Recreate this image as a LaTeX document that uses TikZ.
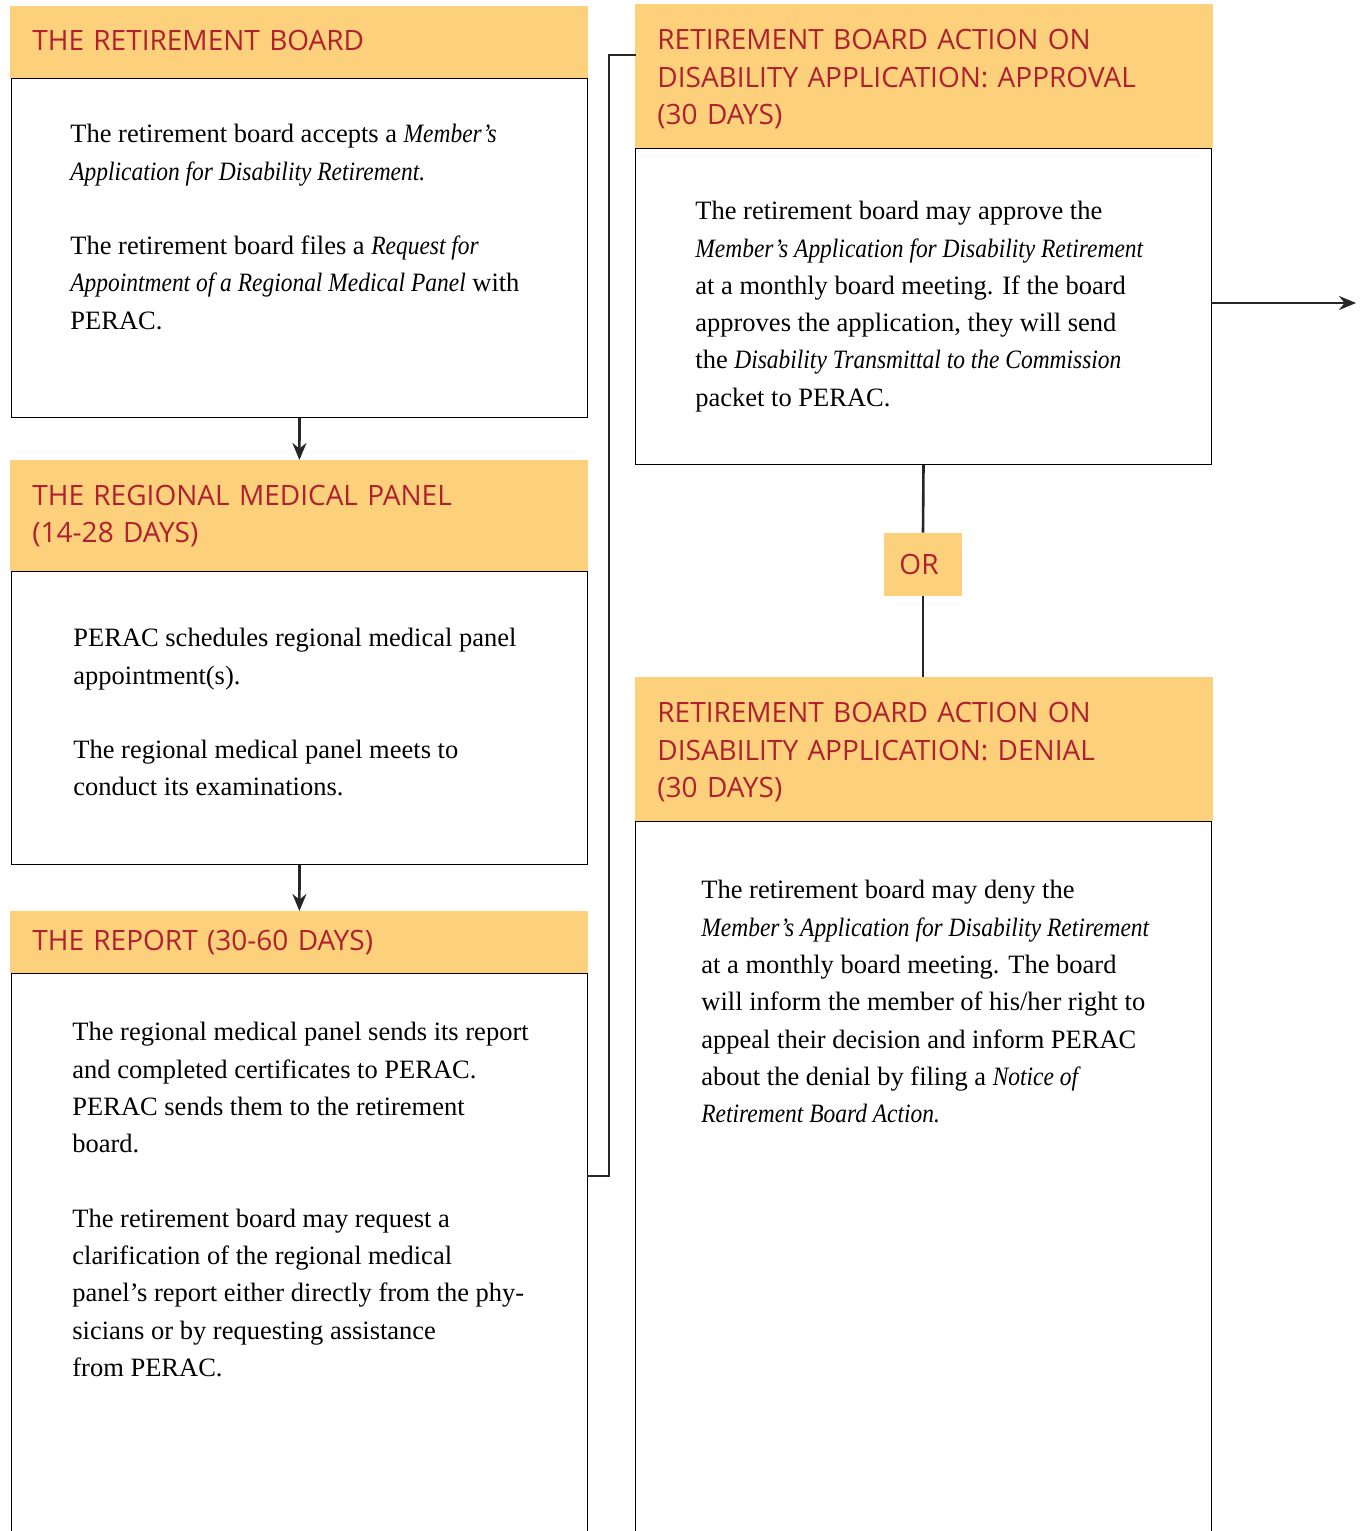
\documentclass[tikz,border=0pt]{standalone}
\usepackage{fontspec}
\setmainfont{Liberation Serif}[ItalicFeatures={FakeStretch=0.885}]
\newfontfamily\headfont{Open Sans}
\usetikzlibrary{positioning,arrows.meta}
\definecolor{headyellow}{HTML}{FDD07B}
\definecolor{headred}{HTML}{B0212F}
\newcommand{\pargap}{\\[18.6pt]}
\newcommand{\uppush}{\rule[-2pt]{0pt}{0pt}}
\newcommand{\downpush}{\rule{0pt}{13pt}}
\tikzstyle{head} = [anchor=north west, fill=headyellow, inner sep=0pt, inner xsep=11pt,
  minimum width=289pt, text width=267pt, align=left, text=headred,
  font=\headfont\fontsize{14}{18.75}\selectfont]
\tikzstyle{body} = [anchor=north west, draw, line width=0.5pt, inner sep=0pt, minimum width=288pt]
\tikzstyle{bodytext} = [anchor=north west, inner sep=0pt, align=left,
  font=\fontsize{13.25}{18.65}\selectfont]
\tikzstyle{link} = [line width=1.3pt, draw=black!85]
\tikzstyle{arrow} = [link, -{Stealth[length=8.5pt,width=7pt]}]

\begin{document}
\begin{tikzpicture}[x=0.5pt, y=-0.5pt]
  \clip (0,0) rectangle (1361,1531);

  % LEFT COLUMN
  % retirement board
  \node[body, minimum height=169.5pt] (boardbody) at (11,78) {};
  \node[head, minimum height=36pt] (boardhead) at (10,6) {THE RETIREMENT BOARD\uppush};
  \node[bodytext] (boardtext) at (70,124) {The retirement board accepts a \textit{Member's}\\
    \textit{Application for Disability Retirement.}\pargap
    The retirement board files a \textit{Request for}\\
    \textit{Appointment of a Regional Medical Panel} with\\
    PERAC.};

  % regional medical panel
  \node[body, minimum height=146.5pt] (panelbody) at (11,571) {};
  \node[head, minimum height=55.5pt] (panelhead) at (10,460) {THE REGIONAL MEDICAL PANEL\\(14-28 DAYS)};
  \node[bodytext] (paneltext) at (73,628) {PERAC schedules regional medical panel\\
    appointment(s).\pargap
    The regional medical panel meets to\\
    conduct its examinations.};

  % report
  \node[body, minimum height=320pt] (reportbody) at (11,973) {};
  \node[head, minimum height=31pt] (reporthead) at (10,911) {THE REPORT (30-60 DAYS)};
  \node[bodytext] (reporttext) at (72,1022) {The regional medical panel sends its report\\
    and completed certificates to PERAC.\\
    PERAC sends them to the retirement\\
    board.\pargap
    The retirement board may request a\\
    clarification of the regional medical\\
    panel's report either directly from the phy-\\
    sicians or by requesting assistance\\
    from PERAC.};

  % RIGHT COLUMN
  % approval
  \node[body, minimum height=158pt] (approvalbody) at (635,148) {};
  \node[head, minimum height=72pt] (approvalhead) at (635,4) {\downpush RETIREMENT BOARD ACTION ON\\
    DISABILITY APPLICATION: APPROVAL\\(30 DAYS)};
  \node[bodytext] (approvaltext) at (695,201) {The retirement board may approve the\\
    \textit{Member's Application for Disability Retirement}\\
    at a monthly board meeting. If the board\\
    approves the application, they will send\\
    the \textit{Disability Transmittal to the Commission}\\
    packet to PERAC.};

  % or
  \node[fill=headyellow, minimum width=39pt, minimum height=31.5pt, inner sep=0pt, text=headred,
    font=\headfont\fontsize{14}{18.75}\selectfont] (orbox) at (923,564.5) {\hspace*{-4pt}OR};

  % denial
  \node[body, minimum height=400pt] (denialbody) at (635,821) {};
  \node[head, minimum height=72pt] (denialhead) at (635,677) {\downpush RETIREMENT BOARD ACTION ON\\
    DISABILITY APPLICATION: DENIAL\\(30 DAYS)};
  \node[bodytext] (denialtext) at (701,880) {The retirement board may deny the\\
    \textit{Member's Application for Disability Retirement}\\
    at a monthly board meeting. The board\\
    will inform the member of his/her right to\\
    appeal their decision and inform PERAC\\
    about the denial by filing a \textit{Notice of}\\
    \textit{Retirement Board Action.}};

  % CONNECTORS
  \coordinate (reportout) at (587,1176);
  \coordinate (approvalin) at (636,55);
  \coordinate (approvalout) at (1211,303);
  \coordinate (nextstep) at (1356,303);
  \draw[arrow] (boardbody.south) -- (panelhead.north);
  \draw[arrow] (panelbody.south) -- (reporthead.north);
  \draw[link] (reportout) -- ++(22,0) |- (approvalin);
  \draw[arrow] (approvalout) -- (nextstep);
  \draw[link] (approvalbody.south) -- (orbox.north);
  \draw[link] (orbox.south) -- (orbox.south |- denialhead.north);
\end{tikzpicture}
\end{document}
